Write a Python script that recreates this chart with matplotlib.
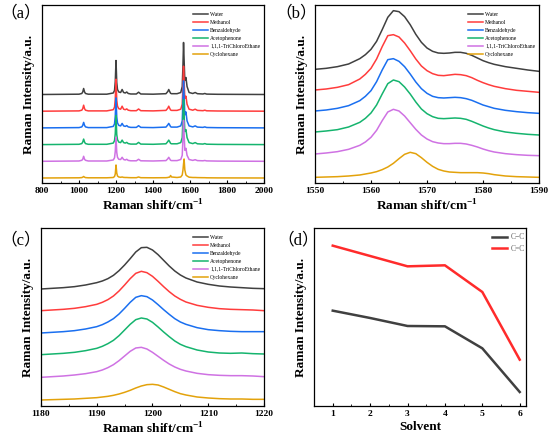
# Raman spectra of the probe in six solvents, 4 panels

import matplotlib
matplotlib.use('Agg')
import matplotlib.pyplot as plt
from matplotlib.ticker import MultipleLocator

plt.rcParams['font.family'] = ['Liberation Serif', 'Noto Sans CJK SC', 'DejaVu Sans']
plt.rcParams['mathtext.fontset'] = 'custom'
plt.rcParams['mathtext.rm'] = 'Liberation Serif'
plt.rcParams['mathtext.bf'] = 'Liberation Serif:bold'

solvents = ['Water', 'Methanol', 'Benzaldehyde', 'Acetophenone',
            '1,1,1-TriChloroEthane', 'Cyclohexane']
colors = ['#404040', '#ff3c3c', '#1a6ff0', '#15b46e', '#cf72e3', '#e3a20b']

# (a) full range 800-2000 cm-1
shift_a = [800, 1000, 1015, 1020, 1025, 1030, 1035, 1050, 1150, 1185, 1192, 1196, 1200,
           1204, 1208, 1215, 1225, 1233, 1241, 1250, 1258, 1266, 1280, 1310, 1322, 1334,
           1400, 1470, 1480, 1485, 1490, 1495, 1500, 1530, 1550, 1558, 1562, 1565, 1568,
           1572, 1578, 1584, 1595, 1615, 1628, 1640, 1670, 1680, 1690, 1750, 2000]
water_a = [0, 0.3, 1, 2.5, 6, 2.5, 1, 0.3, 0.3, 1.5, 4, 13, 34,
           12, 5, 2.5, 2, 5, 2, 1.5, 2.5, 1, 0.5, 0.5, 2.3, 0.5,
           0.3, 0.8, 3, 5, 3, 1.2, 0.8, 0.8, 2, 8, 30, 52, 35,
           14, 17, 8, 2, 1, 2, 0.8, 0.5, 1, 0.4, 0.2, 0]
methanol_a = [0, 0.3, 1, 2.5, 6, 2.5, 1, 0.3, 0.3, 1.5, 4, 12, 32,
              11, 5, 2.5, 2, 5, 2, 1.5, 2.3, 1, 0.5, 0.5, 2.2, 0.5,
              0.3, 0.8, 3, 5, 3, 1.2, 0.8, 0.8, 2, 7, 27, 45, 31,
              13, 15, 7, 2, 1, 2, 0.8, 0.5, 1, 0.4, 0.2, 0]
benzaldehyde_a = [0, 0.3, 1, 2.5, 5.5, 2.5, 1, 0.3, 0.3, 1.5, 4, 12, 30,
                  11, 5, 2.5, 2, 4.5, 2, 1.5, 2.3, 1, 0.5, 0.5, 2.2, 0.5,
                  0.3, 0.8, 3, 4.5, 3, 1.2, 0.8, 0.8, 2, 7, 28, 47, 32,
                  13, 16, 7, 2, 1, 2, 0.8, 0.5, 1, 0.4, 0.2, 0]
acetophenone_a = [0, 0.3, 1, 2.5, 5.5, 2.5, 1, 0.3, 0.3, 1.5, 4, 11, 29,
                  10, 5, 2.5, 2, 4.5, 2, 1.5, 2.2, 1, 0.5, 0.5, 2.2, 0.5,
                  0.3, 0.8, 3, 4.5, 3, 1.2, 0.8, 0.8, 2, 7, 27, 45, 31,
                  13, 15, 7, 2, 1, 2, 0.8, 0.5, 1, 0.4, 0.2, 0]
trichloroethane_a = [0, 0.3, 1, 2, 5, 2, 1, 0.3, 0.3, 1.3, 3.5, 10, 24,
                     9, 4, 2, 1.8, 4, 1.8, 1.3, 2, 0.9, 0.5, 0.5, 2, 0.5,
                     0.3, 0.7, 2.5, 4, 2.5, 1, 0.7, 0.7, 1.8, 6, 24, 41, 28,
                     11, 13, 6, 1.8, 0.9, 1.6, 0.7, 0.5, 0.8, 0.4, 0.2, 0]
cyclohexane_a = [0, 0.2, 0.4, 0.8, 1.5, 0.8, 0.4, 0.2, 0.2, 0.5, 1.5, 4, 13,
                 5, 2, 1, 0.7, 1, 0.6, 0.5, 0.5, 0.4, 0.3, 0.3, 1, 0.3,
                 0.2, 0.3, 0.5, 0.8, 0.8, 2.5, 1, 0.5, 1, 3, 8, 14, 19,
                 8, 3, 2, 0.8, 0.5, 0.5, 0.4, 0.3, 0.3, 0.2, 0.1, 0]

# (b) C=C region
shift_b = [1550, 1552, 1554, 1556, 1558, 1559, 1560, 1561, 1562, 1563, 1564, 1565, 1566,
           1567, 1568, 1569, 1570, 1571, 1572, 1573, 1574, 1575, 1576, 1577, 1578, 1579,
           1580, 1581, 1582, 1584, 1586, 1588, 1590]
water_b = [26, 29, 34, 42, 58, 70, 86, 110, 145, 182, 202, 199, 184,
           160, 131, 107, 90, 80, 75, 74, 75, 77, 77, 74, 68, 60,
           52, 46, 41, 34, 29, 24, 20]
methanol_b = [27, 30, 35, 43, 60, 74, 92, 120, 157, 190, 193, 186, 168,
              145, 120, 99, 85, 76, 71, 70, 72, 74, 73, 70, 64, 56,
              49, 43, 38, 31, 26, 23, 20]
benzaldehyde_b = [27, 30, 35, 43, 58, 71, 88, 115, 150, 181, 184, 176, 160,
                  138, 114, 94, 80, 71, 67, 66, 67, 68, 67, 64, 59, 52,
                  45, 40, 35, 29, 25, 22, 20]
acetophenone_b = [27, 30, 34, 42, 56, 68, 84, 108, 141, 172, 183, 178, 162,
                  141, 117, 96, 82, 73, 68, 67, 68, 69, 68, 65, 59, 52,
                  45, 39, 34, 27, 23, 20, 18]
trichloroethane_b = [24, 27, 31, 38, 50, 60, 74, 95, 124, 150, 158, 153, 138,
                     118, 98, 81, 69, 61, 57, 55, 55, 56, 56, 54, 50, 45,
                     39, 34, 30, 25, 22, 20, 19]
cyclohexane_b = [17, 18, 19, 21, 24, 27, 30, 34, 40, 48, 59, 73, 86,
                 92, 88, 76, 62, 50, 41, 36, 33, 32, 31, 31, 31, 31,
                 30, 28, 25, 21, 19, 18, 17]

# (c) C-C region
shift_c = [1180, 1182, 1184, 1186, 1188, 1190, 1191, 1192, 1193, 1194, 1195, 1196, 1197,
           1198, 1199, 1200, 1201, 1202, 1203, 1204, 1205, 1206, 1208, 1210, 1212, 1214,
           1216, 1218, 1220]
water_c = [21, 23, 25, 28, 33, 40, 45, 52, 62, 76, 93, 112, 132,
           145, 146, 138, 124, 107, 90, 75, 63, 54, 42, 35, 30, 27,
           25, 23, 22]
methanol_c = [22, 24, 26, 29, 34, 41, 47, 55, 66, 81, 99, 118, 134,
              140, 136, 125, 110, 94, 79, 66, 56, 48, 38, 32, 28, 26,
              25, 24, 22]
benzaldehyde_c = [21, 23, 25, 28, 33, 40, 46, 54, 64, 78, 95, 113, 128,
                  133, 130, 120, 106, 91, 77, 64, 54, 47, 37, 31, 28, 26,
                  25, 25, 25]
acetophenone_c = [22, 24, 26, 29, 34, 41, 47, 55, 65, 79, 96, 113, 127,
                  132, 129, 119, 105, 90, 76, 63, 53, 46, 36, 30, 27, 26,
                  27, 25, 24]
trichloroethane_c = [20, 22, 24, 27, 31, 37, 42, 49, 58, 70, 84, 98, 108,
                     110, 105, 95, 83, 71, 60, 51, 44, 39, 32, 28, 26, 25,
                     25, 24, 22]
cyclohexane_c = [18, 19, 20, 21, 23, 25, 27, 29, 32, 36, 41, 47, 54,
                 60, 64, 65, 63, 57, 50, 43, 37, 33, 27, 24, 22, 21,
                 21, 20, 20]

# (d) peak intensity vs solvent
solvent_no = [1, 2, 3, 4, 5, 6]
cc_single = [286, 264, 240, 239, 173, 42]
cc_double = [481, 450, 419, 422, 342, 139]

spectra_a = [water_a, methanol_a, benzaldehyde_a, acetophenone_a, trichloroethane_a, cyclohexane_a]
spectra_b = [water_b, methanol_b, benzaldehyde_b, acetophenone_b, trichloroethane_b, cyclohexane_b]
spectra_c = [water_c, methanol_c, benzaldehyde_c, acetophenone_c, trichloroethane_c, cyclohexane_c]

fig = plt.figure(figsize=(5.5, 4.46), dpi=100)
ax_a = fig.add_axes([0.0764, 0.5897, 0.4036, 0.3991])
ax_b = fig.add_axes([0.5727, 0.5897, 0.4073, 0.3991])
ax_c = fig.add_axes([0.0745, 0.0897, 0.4055, 0.3991])
ax_d = fig.add_axes([0.5710, 0.0897, 0.3855, 0.3991])

xlab = r'Raman shift/cm$^{\mathbf{-1}}$'
ylab = 'Raman Intensity/a.u.'


def style_axis(ax, major, minor, xlabel):
    ax.xaxis.set_major_locator(MultipleLocator(major))
    ax.xaxis.set_minor_locator(MultipleLocator(minor))
    ax.tick_params(axis='x', which='major', direction='in', length=2.5, width=0.8,
                   labelsize=6.8, pad=3)
    ax.tick_params(axis='x', which='minor', direction='in', length=1.5, width=0.6)
    ax.set_yticks([])
    for lab in ax.get_xticklabels():
        lab.set_fontweight('bold')
    for sp in ax.spines.values():
        sp.set_linewidth(0.9)
    ax.set_xlabel(xlabel, fontsize=9.5, fontweight='bold', labelpad=2)
    ax.set_ylabel(ylab, fontsize=9.5, fontweight='bold', labelpad=5)


def spectra_panel(ax, x, curves, step, base, xlim, ylim):
    n = len(curves)
    for i, (ys, name, col) in enumerate(zip(curves, solvents, colors)):
        off = base + (n - 1 - i) * step
        ax.plot(x, [v + off for v in ys], color=col, lw=1.1, label=name)
    ax.set_xlim(*xlim)
    ax.set_ylim(*ylim)
    ax.legend(loc='upper right', frameon=False, prop={'size': 4, 'family': 'Liberation Serif'},
              handlelength=2.6, handletextpad=0.4, labelspacing=0.55,
              borderaxespad=0.3, bbox_to_anchor=(1.0, 0.985))


spectra_panel(ax_a, shift_a, spectra_a, 16.7, 5, (800, 2000), (0, 178))
style_axis(ax_a, 200, 100, xlab)

spectra_panel(ax_b, shift_b, spectra_b, 63, 0, (1550, 1590), (0, 534))
style_axis(ax_b, 10, 5, xlab)

spectra_panel(ax_c, shift_c, spectra_c, 66, 0, (1180, 1220), (0, 534))
style_axis(ax_c, 10, 5, xlab)

ax_d.plot(solvent_no, cc_single, color='#404040', lw=1.8, label='C\u2212C')
ax_d.plot(solvent_no, cc_double, color='#ff2b2b', lw=1.8, label='C=C')
ax_d.set_xlim(0.5, 6.17)
ax_d.set_ylim(0, 534)
style_axis(ax_d, 1, 0.5, 'Solvent')
leg = ax_d.legend(loc='upper right', frameon=False, prop={'size': 5.5},
                  handlelength=2.0, handletextpad=0.5, labelspacing=0.45,
                  borderaxespad=0.3, bbox_to_anchor=(1.02, 1.0))
for t in leg.get_texts():
    t.set_color('#666666')

panel_font = dict(fontsize=12, family=['Liberation Serif', 'Noto Sans CJK SC'])
fig.text(0.0, 0.970, '\uff08a\uff09', va='center', ha='left', **panel_font)
fig.text(0.5, 0.970, '\uff08b\uff09', va='center', ha='left', **panel_font)
fig.text(0.0, 0.462, '\uff08c\uff09', va='center', ha='left', **panel_font)
fig.text(0.505, 0.462, '\uff08d\uff09', va='center', ha='left', **panel_font)

fig.savefig('out.png', dpi=100)
